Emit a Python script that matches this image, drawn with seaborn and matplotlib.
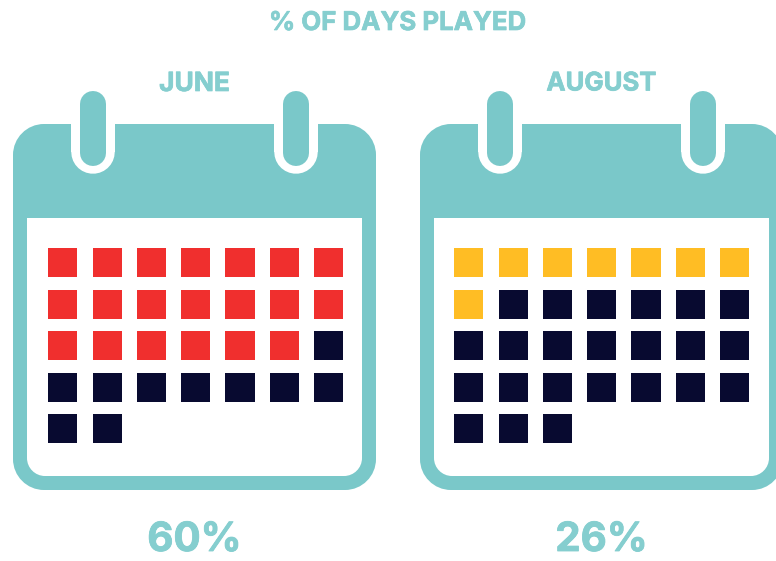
"""
% of days played, June vs August, drawn as two calendars.
"""
import pandas as pd
import seaborn as sns
import matplotlib.pyplot as plt
import matplotlib.patheffects as pe
from matplotlib.path import Path
from matplotlib.patches import PathPatch, Rectangle

# Data, one list per calendar row: 1 played, 0 not played
june_weeks = [
    [1, 1, 1, 1, 1, 1, 1],
    [1, 1, 1, 1, 1, 1, 1],
    [1, 1, 1, 1, 1, 1, 0],
    [0, 0, 0, 0, 0, 0, 0],
    [0, 0],
]
august_weeks = [
    [1, 1, 1, 1, 1, 1, 1],
    [1, 0, 0, 0, 0, 0, 0],
    [0, 0, 0, 0, 0, 0, 0],
    [0, 0, 0, 0, 0, 0, 0],
    [0, 0, 0],
]
month_names = ['JUNE', 'AUGUST']
month_pcts = ['60%', '26%']
month_played_colors = ['#f02f2e', '#ffbd24']
title_text = '% OF DAYS PLAYED'

TEAL = '#7ac8c9'
TEXT_TEAL = '#85cecf'
NAVY = '#080a30'
W, H = 776, 561

sns.set_theme(style='white')
plt.rcParams['font.family'] = ['Inter', 'DejaVu Sans']


def weeks_to_frame(weeks):
    rows = []
    for row, week in enumerate(weeks):
        for col, played in enumerate(week):
            rows.append({'col': col, 'row': row, 'played': played})
    return pd.DataFrame(rows)


def round_rect(x1, y1, x2, y2, r):
    """Rounded rectangle with true circular corners (cubic bezier arcs)"""
    k = r * 0.448
    verts = [(x1 + r, y1), (x2 - r, y1),
             (x2 - k, y1), (x2, y1 + k), (x2, y1 + r), (x2, y2 - r),
             (x2, y2 - k), (x2 - k, y2), (x2 - r, y2), (x1 + r, y2),
             (x1 + k, y2), (x1, y2 - k), (x1, y2 - r), (x1, y1 + r),
             (x1, y1 + k), (x1 + k, y1), (x1 + r, y1), (x1 + r, y1)]
    codes = [Path.MOVETO, Path.LINETO,
             Path.CURVE4, Path.CURVE4, Path.CURVE4, Path.LINETO,
             Path.CURVE4, Path.CURVE4, Path.CURVE4, Path.LINETO,
             Path.CURVE4, Path.CURVE4, Path.CURVE4, Path.LINETO,
             Path.CURVE4, Path.CURVE4, Path.CURVE4, Path.CLOSEPOLY]
    return Path(verts, codes)


def draw_calendar(bg, x0):
    """Calendar body in pixel coordinates, x0 is the left edge"""
    bg.add_patch(PathPatch(round_rect(x0, 124, x0 + 363, 490, 31), fc=TEAL, ec='none'))
    bg.add_patch(PathPatch(round_rect(x0 + 14, 218, x0 + 349, 476, 18), fc='white', ec='none'))
    bg.add_patch(Rectangle((x0 + 14, 217.5), 335, 40, fc='white', ec='none'))
    for ring_x in (x0 + 80, x0 + 283):
        bg.add_patch(Rectangle((ring_x - 21.75, 118), 43.5, 34, fc='white', ec='none'))
        bg.plot([ring_x, ring_x], [125, 152], color='white', lw=43.5 * 0.72, solid_capstyle='round', zorder=3)
        bg.plot([ring_x, ring_x], [104, 153], color=TEAL, lw=26 * 0.72, solid_capstyle='round', zorder=4)


def draw_days(fig, weeks, played_color, x_first):
    # axes spans the 7x5 grid, so columns and rows land on the cell centres
    left = x_first - 22.15
    top = 262.6 - 20.75
    width, height = 44.3 * 7, 41.5 * 5
    ax = fig.add_axes([left / W, 1 - (top + height) / H, width / W, height / H])
    ax.patch.set_alpha(0)
    sns.scatterplot(data=weeks_to_frame(weeks), x='col', y='row', hue='played', marker='s', s=440,
                    linewidth=0, palette={1: played_color, 0: NAVY}, legend=False, ax=ax)
    ax.set_xlim(-0.5, 6.5)
    ax.set_ylim(4.5, -0.5)
    ax.axis('off')


def label(bg, x, y, txt, size, stroke):
    t = bg.text(x, y, txt, color=TEXT_TEAL, fontsize=size, fontweight='bold', ha='center', va='center')
    t.set_path_effects([pe.withStroke(linewidth=stroke, foreground=TEXT_TEAL)])


fig = plt.figure(figsize=(W / 100, H / 100), dpi=100)
bg = fig.add_axes([0, 0, 1, 1])
bg.set_xlim(0, W)
bg.set_ylim(H, 0)
bg.axis('off')

label(bg, 397.5, 23.5, title_text, 18.6, 0.5)

offsets = [13, 420]
all_weeks = [june_weeks, august_weeks]
month_sizes = [19, 18.5]
for i, name in enumerate(month_names):
    x0 = offsets[i]
    draw_calendar(bg, x0)
    label(bg, x0 + 181.5, 84, name, month_sizes[i], 0.5)
    label(bg, x0 + 181.5, 540.5, month_pcts[i], 29, 0.6)
    draw_days(fig, all_weeks[i], month_played_colors[i], x0 + 49.8 + (0 if i == 0 else -1))

fig.savefig('out.png', dpi=100)
